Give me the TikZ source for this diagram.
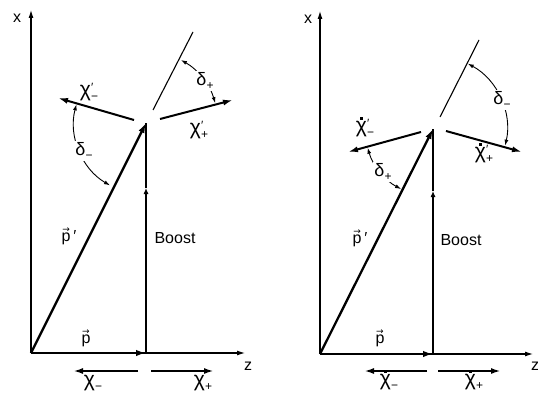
\documentclass[tikz,border=0pt]{standalone}
\usepackage{fontspec}
\setmainfont{Liberation Sans}
\newfontfamily\djv{DejaVu Sans}
\usetikzlibrary{arrows.meta}
\newcommand{\chiglyph}{{\fontsize{21}{21}\selectfont χ}}
\newcommand{\dchi}{\leavevmode\vbox{\offinterlineskip\halign{\hfil##\hfil\cr\rule{2.4pt}{2.4pt}\cr\noalign{\kern1.5pt}\chiglyph\cr}}}
\newcommand{\chl}[3]{#1\rlap{\raisebox{0.6ex}{\fontsize{12}{12}\selectfont #2}}\raisebox{-0.5ex}{\fontsize{12}{12}\selectfont #3}}
\newcommand{\vp}{\leavevmode\vbox{\offinterlineskip\halign{\hfil##\hfil\cr{\djv\fontsize{9}{9}\selectfont →}\cr\noalign{\kern0.5pt}p\cr}}}
\newcommand{\dlt}[1]{{\fontsize{18}{18}\selectfont δ}\raisebox{-0.5ex}{\fontsize{12}{12}\selectfont #1}}
\begin{document}
\begin{tikzpicture}[x=1pt,y=-1pt,
  axis/.style={line width=1.1pt,-{Latex[length=8pt,width=5pt]}},
  vecar/.style={line width=2.3pt,-{Latex[length=10pt,width=6.5pt]}},
  chiar/.style={line width=2pt,-{Latex[length=10pt,width=6pt]}},
  thinln/.style={line width=1.1pt},
  midar/.style={line width=1.1pt,-{Latex[length=6pt,width=5pt]}},
  ang/.style={line width=0.9pt,{Latex[length=6pt,width=4pt]}-{Latex[length=6pt,width=4pt]}},
  lbl/.style={font=\fontsize{16}{18}\selectfont,inner sep=1pt},
  albl/.style={font=\fontsize{16}{18}\selectfont,inner sep=1pt,fill=white}]
\useasboundingbox (0,0) rectangle (538,393);
% ---------- left panel ----------
\coordinate (O1) at (31,353);
\coordinate (B1) at (146,353);
\coordinate (M1) at (146,188);
\coordinate (V1) at (146,123);
\coordinate (X1) at (31,10);
\coordinate (Z1) at (245,353);
\coordinate (La1) at (153,110);
\coordinate (Lb1) at (193,32);
\coordinate (Cm1a) at (134,120);
\coordinate (Cm1b) at (58,98);
\coordinate (Cp1a) at (160,119);
\coordinate (Cp1b) at (233,100);
\coordinate (Bm1a) at (138,371);
\coordinate (Bm1b) at (73,371);
\coordinate (Bp1a) at (151,371);
\coordinate (Bp1b) at (214,371);
\draw[axis] (O1) -- (X1);
\draw[axis] (O1) -- (Z1);
\draw[vecar] (O1) -- (B1);
\draw[midar] (B1) -- (M1);
\draw[thinln] (M1) -- (V1);
\draw[vecar] (O1) -- (V1);
\draw[thinln] (La1) -- (Lb1);
\draw[chiar] (Cm1a) -- (Cm1b);
\draw[chiar] (Cp1a) -- (Cp1b);
\draw[chiar] (Bm1a) -- (Bm1b);
\draw[chiar] (Bp1a) -- (Bp1b);
\draw[ang] (V1) ++(61:72pt) arc[start angle=61,end angle=16,radius=72pt];
\draw[ang] (V1) ++(165:72pt) arc[start angle=165,end angle=240,radius=72pt];
\node[albl] (dp1) at (205,81) {\dlt{+}};
\node[albl] (dm1) at (84,151) {\dlt{−}};
\node[lbl] (x1) at (17,18) {x};
\node[lbl] (z1) at (248,366) {z};
\node[lbl] (p1) at (86,338) {\vp};
\node[lbl] (pp1) at (69,236) {\vp\,′};
\node[lbl] (boost1) at (175,238) {Boost};
\node[lbl] (cm1) at (89,92) {\chl{\chiglyph}{′}{−}};
\node[lbl] (cp1) at (199,130) {\chl{\chiglyph}{′}{+}};
\node[lbl] (bm1) at (93,383) {\chl{\chiglyph}{}{−}};
\node[lbl] (bp1) at (203,383) {\chl{\chiglyph}{}{+}};
% ---------- right panel ----------
\coordinate (O2) at (320,354);
\coordinate (B2) at (433,354);
\coordinate (M2) at (433,191);
\coordinate (V2) at (433,129);
\coordinate (X2) at (320,11);
\coordinate (Z2) at (533,354);
\coordinate (La2) at (440,117);
\coordinate (Lb2) at (479,40);
\coordinate (Cm2a) at (421,132);
\coordinate (Cm2b) at (348,152);
\coordinate (Cp2a) at (446,131);
\coordinate (Cp2b) at (522,152);
\coordinate (Bm2a) at (427,371);
\coordinate (Bm2b) at (364,371);
\coordinate (Bp2a) at (438,371);
\coordinate (Bp2b) at (501,371);
\draw[axis] (O2) -- (X2);
\draw[axis] (O2) -- (Z2);
\draw[vecar] (O2) -- (B2);
\draw[midar] (B2) -- (M2);
\draw[thinln] (M2) -- (V2);
\draw[vecar] (O2) -- (V2);
\draw[thinln] (La2) -- (Lb2);
\draw[chiar] (Cm2a) -- (Cm2b);
\draw[chiar] (Cp2a) -- (Cp2b);
\draw[chiar] (Bm2a) -- (Bm2b);
\draw[chiar] (Bp2a) -- (Bp2b);
\draw[ang] (V2) ++(62:74pt) arc[start angle=62,end angle=-13,radius=74pt];
\draw[ang] (V2) ++(196:68pt) arc[start angle=196,end angle=242,radius=68pt];
\node[albl] (dm2) at (502,100) {\dlt{−}};
\node[albl] (dp2) at (383,172) {\dlt{+}};
\node[lbl] (x2) at (308,19) {x};
\node[lbl] (z2) at (535,366) {z};
\node[lbl] (p2) at (380,338) {\vp};
\node[lbl] (pp2) at (360,238) {\vp\,′};
\node[lbl] (boost2) at (461,240) {Boost};
\node[lbl] (cm2) at (365,127) {\chl{\dchi}{′}{−}};
\node[lbl] (cp2) at (484,153) {\chl{\dchi}{′}{+}};
\node[lbl] (bm2) at (389,380) {\chl{\dchi}{}{−}};
\node[lbl] (bp2) at (474,380) {\chl{\dchi}{}{+}};
\end{tikzpicture}
\end{document}
